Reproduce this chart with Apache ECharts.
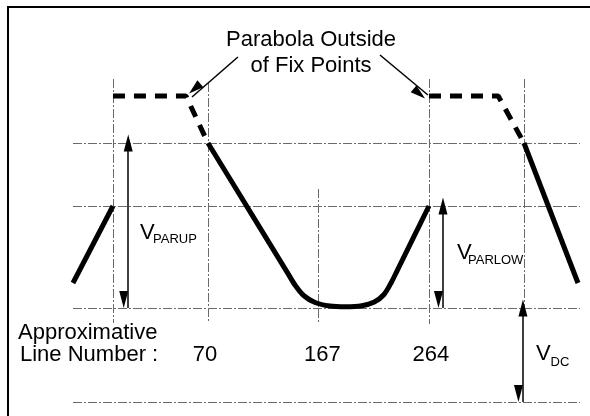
<!DOCTYPE html>
<html>
<head>
<meta charset="utf-8">
<script src="https://cdn.jsdelivr.net/npm/echarts@6/dist/echarts.min.js"></script>
<style>
html,body{margin:0;padding:0;background:#fff;}
#chart{width:590px;height:416px;}
</style>
</head>
<body>
<div id="chart"></div>
<script>
// ---- data (x: approximate line number, y: relative voltage level) ----
const tickLineNumbers = [70, 167, 264];
const tickLabels = ['70', '167', '264'];
const levelValues = [0, 94, 196, 259];          // V=0, VDC, VDC+VPARLOW, VDC+VPARUP
const levelRange = [-48.5, 396.5];              // extent of horizontal reference lines
const markerX = [-13.4, 70, 167, 264, 347.4];   // vertical reference lines
const markerTop = [323, 319, 213, 323, 323];
const markerBottom = [79, 79, 78, 78, 94];

const curveLeftX = [-48.5, -13.4];
const curveLeftY = [119, 196];
const curveMainX = [70, 108, 140, 146.4, 154, 164, 177, 191, 205, 216, 224.5, 231.3, 236, 250, 264];
const curveMainY = [259, 188.4, 128.9, 117, 106.5, 99.5, 96, 95.3, 96.3, 100, 107.5, 120.3, 131.2, 163.6, 196];
const curveRightX = [347.4, 394.8];
const curveRightY = [259, 119];

const outsideLeftX = [-13.4, 50.7, 70];
const outsideLeftY = [306, 306, 259];
const outsideRightX = [264, 324.8, 347.4];
const outsideRightY = [306, 306, 259];

const vParUpX = 0,      vParUpRange = [259, 94];
const vParLowX = 276.3, vParLowRange = [196, 94];
const vDcX = 346.5,     vDcRange = [94, 0];
const calloutFrom = [[96.3, 345], [221, 347]];
const calloutTo = [[56, 305], [263.1, 307]];

// ---- build ----
const zip = (xs, ys) => xs.map((x, i) => [x, ys[i]]);
const FONT = '"Liberation Sans", Arial, Helvetica, sans-serif';

const refLines = [];
levelValues.forEach(v => refLines.push([{coord: [levelRange[0], v]}, {coord: [levelRange[1], v]}]));
markerX.forEach((x, i) => refLines.push([{coord: [x, markerTop[i]]}, {coord: [x, markerBottom[i]]}]));

function curve(xs, ys, extra) {
  return Object.assign({
    type: 'line', data: zip(xs, ys), showSymbol: false, symbol: 'none',
    lineStyle: {color: '#000', width: 5}, silent: true, animation: false, z: 5
  }, extra || {});
}

const chart = echarts.init(document.getElementById('chart'), null, {renderer: 'canvas'});
chart.setOption({
  backgroundColor: '#fff',
  animation: false,
  grid: {left: 14.3, right: 6.1, top: 2, bottom: 14},
  xAxis: {type: 'value', min: -100, max: 400, show: false},
  yAxis: {type: 'value', min: 0, max: 400, show: false},
  series: [
    {
      type: 'line', data: [], silent: true, animation: false, z: 1,
      markLine: {
        silent: true, animation: false, symbol: 'none', label: {show: false},
        lineStyle: {color: '#6a6a6a', width: 1, type: [9, 2, 2, 2]},
        emphasis: {disabled: true},
        data: refLines
      }
    },
    curve(curveLeftX, curveLeftY),
    curve(curveMainX, curveMainY, {smooth: 0.3}),
    curve(curveRightX, curveRightY),
    curve(outsideLeftX, outsideLeftY, {lineStyle: {color: '#000', width: 5, type: [12, 9]}}),
    curve(outsideRightX, outsideRightY, {lineStyle: {color: '#000', width: 5, type: [12, 9]}}),
    {
      type: 'line', data: [], silent: true, animation: false, z: 6,
      markLine: {
        silent: true, animation: false, label: {show: false},
        symbol: ['triangle', 'triangle'], symbolSize: [9, 17], symbolOffset: [0, '50%'],
        lineStyle: {color: '#000', width: 1.5, type: 'solid'},
        itemStyle: {color: '#000'},
        emphasis: {disabled: true},
        data: [
          [{coord: [vParUpX, vParUpRange[0]]}, {coord: [vParUpX, vParUpRange[1]]}],
          [{coord: [vParLowX, vParLowRange[0]]}, {coord: [vParLowX, vParLowRange[1]]}],
          [{coord: [vDcX, vDcRange[0]]}, {coord: [vDcX, vDcRange[1]]}]
        ]
      }
    },
    {
      type: 'line', data: [], silent: true, animation: false, z: 6,
      markLine: {
        silent: true, animation: false, label: {show: false},
        symbol: ['none', 'triangle'], symbolSize: [9, 15], symbolOffset: [0, '50%'],
        lineStyle: {color: '#000', width: 1.5, type: 'solid'},
        itemStyle: {color: '#000'},
        emphasis: {disabled: true},
        data: calloutFrom.map((f, i) => [{coord: f}, {coord: calloutTo[i]}])
      }
    }
  ]
});

// ---- text & frame ----
function px(x, y) { return chart.convertToPixel({gridIndex: 0}, [x, y]); }
const txt = (text, x, y, size, align) => ({
  type: 'text', x: x, y: y, silent: true,
  style: {text: text, font: size + 'px ' + FONT, fill: '#000', align: align || 'left', verticalAlign: 'middle'}
});
const labelY = 354.5;
const graphics = [
  {type: 'rect', shape: {x: 8, y: 7, width: 700, height: 500}, silent: true,
   style: {fill: 'none', stroke: '#000', lineWidth: 2}, z: 10},
  txt('Parabola Outside', 311, 40, 22, 'center'),
  txt('of Fix Points', 311, 66, 22, 'center'),
  txt('Approximative', 18, 332.5, 22),
  txt('Line Number :', 20, labelY, 22)
];
tickLineNumbers.forEach((n, i) => {
  graphics.push(txt(tickLabels[i], px(n, 0)[0] + [-3, 4, 2][i], labelY, 22, 'center'));
});
graphics.push(txt('V', 140, 232.5, 22), txt('PARUP', 153, 239.5, 13));
graphics.push(txt('V', 457, 252.5, 22), txt('PARLOW', 468, 260, 13));
graphics.push(txt('V', 536, 354, 22), txt('DC', 550.5, 362.5, 13));
chart.setOption({graphic: graphics});
</script>
</body>
</html>
